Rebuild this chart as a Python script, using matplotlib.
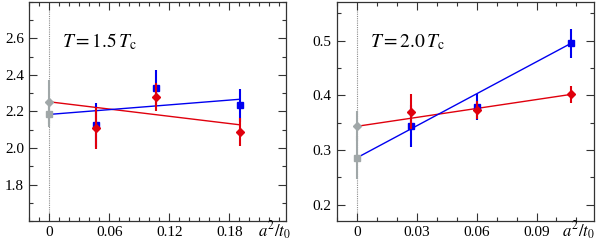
import numpy as np
import matplotlib
matplotlib.use('Agg')
import matplotlib.pyplot as plt
from matplotlib.ticker import MultipleLocator

plt.rcParams['font.family'] = ['Liberation Serif', 'DejaVu Serif']
plt.rcParams['mathtext.fontset'] = 'stix'

# T = 1.5 Tc panel
x15 = [0.047, 0.107, 0.1905]
red15 = [2.110, 2.280, 2.088]
red15_err = [0.115, 0.075, 0.076]
blue15 = [2.124, 2.330, 2.234]
blue15_err = [0.12, 0.10, 0.09]
red15_cont, red15_cont_err = 2.253, 0.12
blue15_cont, blue15_cont_err = 2.184, 0.07
red15_fit_end = 2.127
blue15_fit_end = 2.267

# T = 2.0 Tc panel
x20 = [0.0268, 0.0603, 0.1072]
red20 = [0.370, 0.373, 0.4017]
red20_err = [0.032, 0.016, 0.015]
blue20 = [0.3435, 0.379, 0.495]
blue20_err = [0.038, 0.024, 0.026]
red20_cont, red20_cont_err = 0.3435, 0.027
blue20_cont, blue20_cont_err = 0.2862, 0.040
red20_fit_end = 0.4017
blue20_fit_end = 0.495

RED = '#e0000d'
BLUE = '#0000f0'
GRAY = '#a0a7a8'

fig = plt.figure(figsize=(5.99, 2.46), dpi=100)
ax1 = fig.add_axes([0.0484, 0.1016, 0.4291, 0.8904])
ax2 = fig.add_axes([0.5621, 0.1016, 0.4296, 0.8904])


def draw_panel(ax, x, red, red_err, blue, blue_err, rc, rce, bc, bce, rend, bend):
    ax.axvline(0, color='0.55', ls=(0, (1, 1)), lw=0.8, zorder=1)
    xe = x[-1]
    ax.plot([0, xe], [rc, rend], color=RED, lw=1, zorder=2)
    ax.plot([0, xe], [bc, bend], color=BLUE, lw=1, zorder=2)
    ax.errorbar([0], [bc], yerr=[bce], fmt='s', color=GRAY, ms=5,
                elinewidth=1.5, capsize=0, zorder=3)
    ax.errorbar([0], [rc], yerr=[rce], fmt='D', color=GRAY, ms=4,
                elinewidth=1.5, capsize=0, zorder=3)
    ax.errorbar(x, blue, yerr=blue_err, fmt='s', color=BLUE, ms=5,
                elinewidth=1.5, capsize=0, zorder=4)
    ax.errorbar(x, red, yerr=red_err, fmt='D', color=RED, ms=4,
                elinewidth=1.5, capsize=0, zorder=5)
    ax.tick_params(which='both', direction='in', top=True, right=True,
                   labelsize=11, color='0.2')
    ax.tick_params(which='major', length=6, width=0.8)
    ax.tick_params(which='minor', length=3, width=0.8)
    for s in ax.spines.values():
        s.set_color('0.2')
        s.set_linewidth(0.9)


draw_panel(ax1, x15, red15, red15_err, blue15, blue15_err,
           red15_cont, red15_cont_err, blue15_cont, blue15_cont_err,
           red15_fit_end, blue15_fit_end)
ax1.set_xlim(-0.0203, 0.2366)
ax1.set_ylim(1.6, 2.8)
ax1.set_xticks([0, 0.06, 0.12, 0.18])
ax1.set_xticklabels(['0', '0.06', '0.12', '0.18'])
ax1.xaxis.set_minor_locator(MultipleLocator(0.01))
ax1.set_yticks([1.8, 2.0, 2.2, 2.4, 2.6])
ax1.set_yticklabels(['1.8', '2.0', '2.2', '2.4', '2.6'])
ax1.yaxis.set_minor_locator(MultipleLocator(0.1))
ax1.text(0.13, 0.817, r'$T = 1.5\,T_{\rm c}$', transform=ax1.transAxes,
         fontsize=14, va='center')
ax1.text(0.955, -0.045, r'$a^2/t_0$', transform=ax1.transAxes,
         fontsize=12, ha='center', va='center')

draw_panel(ax2, x20, red20, red20_err, blue20, blue20_err,
           red20_cont, red20_cont_err, blue20_cont, blue20_cont_err,
           red20_fit_end, blue20_fit_end)
ax2.set_xlim(-0.0104, 0.1189)
ax2.set_ylim(0.17, 0.571)
ax2.set_xticks([0, 0.03, 0.06, 0.09])
ax2.set_xticklabels(['0', '0.03', '0.06', '0.09'])
ax2.xaxis.set_minor_locator(MultipleLocator(0.01))
ax2.set_yticks([0.2, 0.3, 0.4, 0.5])
ax2.set_yticklabels(['0.2', '0.3', '0.4', '0.5'])
ax2.yaxis.set_minor_locator(MultipleLocator(0.05))
ax2.text(0.13, 0.817, r'$T = 2.0\,T_{\rm c}$', transform=ax2.transAxes,
         fontsize=14, va='center')
ax2.text(0.94, -0.045, r'$a^2/t_0$', transform=ax2.transAxes,
         fontsize=12, ha='center', va='center')

fig.savefig('out.png', dpi=100)
